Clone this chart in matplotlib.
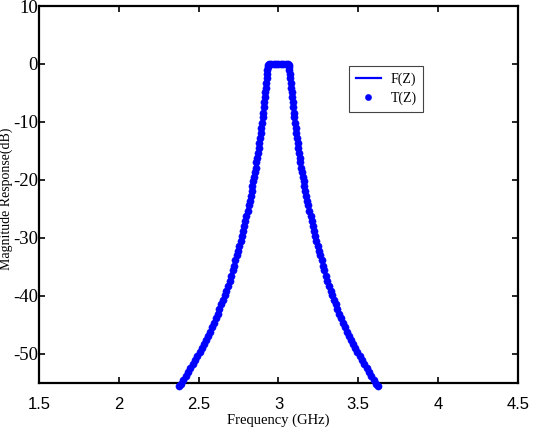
import numpy as np
import matplotlib
matplotlib.use("Agg")
import matplotlib.pyplot as plt

plt.rcParams['axes.unicode_minus'] = False

# half of the (symmetric) response:
# offset from the 3 GHz centre (GHz) and magnitude (dB)
center = 3.0
offset = [0.000, 0.015, 0.030, 0.045, 0.059, 0.063, 0.066, 0.069, 0.072, 0.075,
          0.077, 0.080, 0.083, 0.086, 0.090, 0.093, 0.097, 0.100, 0.104, 0.108,
          0.112, 0.116, 0.120, 0.124, 0.129, 0.133, 0.138, 0.143, 0.148, 0.153,
          0.158, 0.163, 0.169, 0.175, 0.181, 0.187, 0.194, 0.201, 0.208, 0.215,
          0.222, 0.229, 0.237, 0.245, 0.253, 0.261, 0.270, 0.279, 0.288, 0.297,
          0.307, 0.317, 0.327, 0.337, 0.348, 0.359, 0.370, 0.381, 0.393, 0.405,
          0.417, 0.429, 0.442, 0.455, 0.468, 0.481, 0.495, 0.509, 0.523, 0.537,
          0.552, 0.567, 0.582, 0.597, 0.612, 0.625]
mag_db = [0.0, 0.0, 0.0, 0.0, 0.0, -0.2, -0.5, -1.1, -1.8, -2.5,
          -3.3, -4.1, -4.9, -5.7, -6.6, -7.5, -8.4, -9.2, -10.1, -11.0,
          -11.9, -12.7, -13.6, -14.5, -15.4, -16.2, -17.0, -17.9, -18.7, -19.5,
          -20.2, -21.0, -21.9, -22.8, -23.6, -24.4, -25.3, -26.2, -27.1, -28.0,
          -28.8, -29.6, -30.5, -31.4, -32.2, -33.0, -33.9, -34.8, -35.6, -36.5,
          -37.4, -38.3, -39.1, -39.9, -40.7, -41.5, -42.3, -43.1, -43.9, -44.7,
          -45.4, -46.2, -46.9, -47.6, -48.3, -49.0, -49.7, -50.4, -51.1, -51.8,
          -52.5, -53.2, -53.9, -54.6, -55.2, -55.6]

xticks = [1.5, 2, 2.5, 3, 3.5, 4, 4.5]
yticks = [10, 0, -10, -20, -30, -40, -50]

d = np.array(offset)
m = np.array(mag_db)
freq = np.concatenate([center - d[::-1], center + d[1:]])
resp = np.concatenate([m[::-1], m[1:]])

fig = plt.figure(figsize=(5.33, 4.29), dpi=100)
ax = fig.add_axes([0.0737, 0.1065, 0.8976, 0.8795])

ax.plot(freq, resp, '-', color='#0000ff', lw=2.2, label='F(Z)', clip_on=False, zorder=3)
ax.plot(freq, resp, 'o', color='#0000ff', ms=5.2, mew=0.3, label='T(Z)', clip_on=False, zorder=4)

ax.set_xlim(1.5, 4.5)
ax.set_ylim(-55.1, 10)
ax.set_xticks(xticks)
ax.set_xticklabels(['1.5', '2', '2.5', '3', '3.5', '4', '4.5'],
                   family='Liberation Sans', size=12)
ax.set_yticks(yticks)
ax.set_yticklabels([str(v) for v in yticks], family='Liberation Serif', size=13.5)

ax.tick_params(direction='in', length=4, width=1.2, top=True, right=True)
ax.tick_params(axis='x', pad=10)
ax.tick_params(axis='y', pad=1)
for s in ax.spines.values():
    s.set_linewidth(1.6)

ax.set_xlabel('Frequency (GHz)', family='Liberation Serif', size=10.5, labelpad=1)
ax.set_ylabel('Magnitude Response(dB)', family='Liberation Serif', size=10)
ax.yaxis.set_label_coords(-0.054, 0.49)

leg = ax.legend(loc='upper left', bbox_to_anchor=(0.648, 0.841), borderaxespad=0,
                prop={'family': 'Liberation Serif', 'size': 10}, fancybox=False,
                framealpha=1, edgecolor='#444444', handlelength=1.8,
                handletextpad=0.75, borderpad=0.45, labelspacing=0.45)
leg.get_frame().set_linewidth(0.8)
leg.legend_handles[0].set_linewidth(1.6)
leg.legend_handles[1].set_markersize(4.5)

fig.savefig('out.png', dpi=100)
